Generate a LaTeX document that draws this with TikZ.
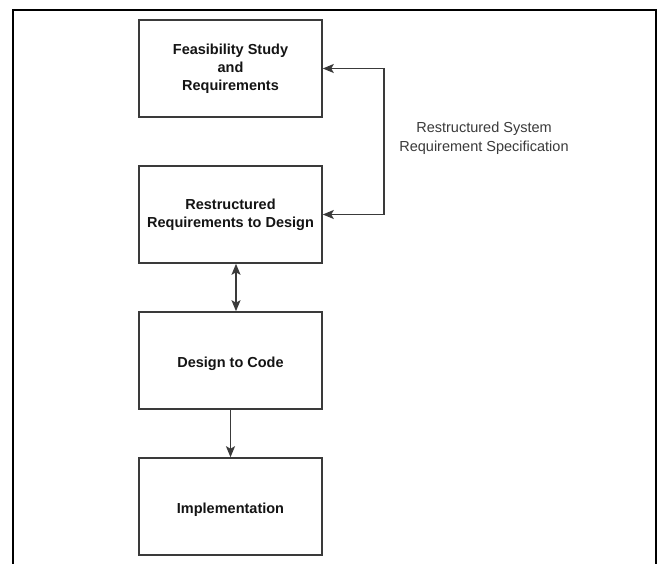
\documentclass[tikz,border=0pt]{standalone}
\usepackage{fontspec}
\setmainfont{Liberation Sans}
\usetikzlibrary{arrows.meta}
\definecolor{boxline}{HTML}{3A3A3A}
\definecolor{txt}{HTML}{141414}
\tikzset{
  stagebox/.style={draw=boxline, line width=1.6pt, minimum width=183pt, minimum height=97pt,
    inner sep=0pt, align=center, text=txt, font=\fontsize{14.5}{17.8}\selectfont\bfseries,
    execute at begin node={\rule{0pt}{17pt}}},
  conn/.style={draw=boxline, line width=1.6pt, arrows={-Stealth[length=11pt,width=9pt,inset=2.5pt]}},
  biconn/.style={draw=boxline, line width=1.6pt, arrows={Stealth[length=11pt,width=9pt,inset=2.5pt]-Stealth[length=11pt,width=9pt,inset=2.5pt]}},
  lbl/.style={align=center, text=boxline, font=\fontsize{14.5}{18.5}\selectfont}
}
\begin{document}
\begin{tikzpicture}[x=1pt,y=-1pt]
\useasboundingbox (0,0) rectangle (659,564);
\fill[white] (0,0) rectangle (659,564);
% outer frame
\draw[line width=2.2pt, black] (13,570) -- (13,10) -- (656,10) -- (656,570);
% stages
\node[stagebox] (feas) at (230.5,68.5) {Feasibility Study\\and\\Requirements};
\node[stagebox] (rdes) at (230.5,214.5) {Restructured\\Requirements to Design};
\node[stagebox] (code) at (230.5,360.5) {Design to Code};
\node[stagebox] (impl) at (230.5,506.5) {Implementation};
% connectors
\draw[biconn] ([xshift=5.5pt]rdes.south) -- ([xshift=5.5pt]code.north);
\draw[conn] (code) -- (impl);
\draw[biconn] (feas.east) -- ++(61,0) |- (rdes.east);
% label
\node[lbl] (spec) at (484,138.5) {Restructured System\\Requirement Specification};
\end{tikzpicture}
\end{document}
